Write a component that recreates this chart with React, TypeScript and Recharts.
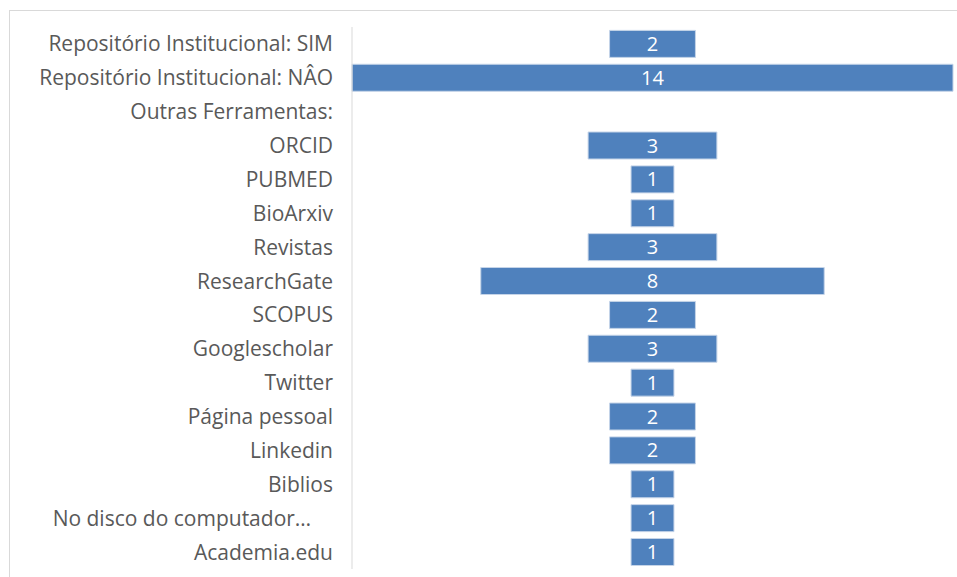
import React from 'react';
import { BarChart, Bar, XAxis, YAxis, LabelList } from 'recharts';

const categories = [
  'Repositório Institucional: SIM',
  'Repositório Institucional: NÂO',
  'Outras Ferramentas:',
  'ORCID',
  'PUBMED',
  'BioArxiv',
  'Revistas',
  'ResearchGate',
  'SCOPUS',
  'Googlescholar',
  'Twitter',
  'Página pessoal',
  'Linkedin',
  'Biblios',
  'No disco do computador…\u00a0\u00a0\u00a0\u00a0',
  'Academia.edu',
];
const values = [2, 14, 0, 3, 1, 1, 3, 8, 2, 3, 1, 2, 2, 1, 1, 1];

const maxValue = Math.max(...values);
const data = categories.map((name, i) => ({
  name,
  offset: (maxValue - values[i]) / 2,
  value: values[i],
}));

const FONT = '"Open Sans", sans-serif';

export default function App() {
  return (
    <div style={{ position: 'relative', width: 957, height: 577, overflow: 'hidden', background: '#fff' }}>
      <style>{'body{margin:0;overflow:hidden;}'}</style>
      <div
        style={{
          position: 'absolute',
          left: 9,
          top: 10,
          width: 1000,
          height: 600,
          borderTop: '1px solid #d9d9d9',
          borderLeft: '1px solid #d9d9d9',
        }}
      />
      <div style={{ position: 'absolute', left: 0, top: 0 }}>
        <BarChart
          width={957}
          height={577}
          data={data}
          layout="vertical"
          margin={{ top: 27, right: 4, bottom: 8, left: 0 }}
          barCategoryGap="10%"
        >
          <XAxis type="number" domain={[0, maxValue]} hide />
          <YAxis
            type="category"
            dataKey="name"
            width={352}
            tickLine={false}
            axisLine={{ stroke: '#d9d9d9' }}
            tickMargin={13}
            interval={0}
            tick={{ fill: '#595959', fontSize: 21, fontFamily: FONT }}
          />
          <Bar dataKey="offset" stackId="a" fill="transparent" isAnimationActive={false} />
          <Bar dataKey="value" stackId="a" fill="#4F81BD" stroke="#c5d4e8" strokeWidth={1} isAnimationActive={false}>
            <LabelList
              dataKey="value"
              position="center"
              formatter={(v: any) => (v ? v : '')}
              style={{ fill: '#ffffff', fontSize: 20, fontFamily: FONT }}
            />
          </Bar>
        </BarChart>
      </div>
    </div>
  );
}
